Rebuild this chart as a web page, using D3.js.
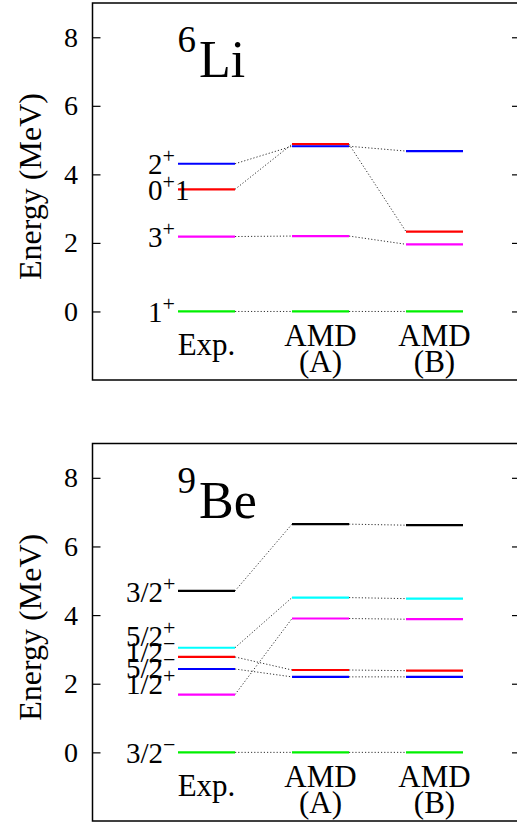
<!DOCTYPE html>
<html>
<head>
<meta charset="utf-8">
<script src="https://cdn.jsdelivr.net/npm/d3@7"></script>
<style>
  body { margin: 0; background: #fff; }
  text { font-family: "Liberation Serif", "Times New Roman", serif; fill: #000; }
</style>
</head>
<body>
<svg id="chart" width="517" height="824"></svg>
<script>
// ---- data ----
const columns = [["Exp."], ["AMD", "(A)"], ["AMD", "(B)"]];
const yTicks = [0, 2, 4, 6, 8];

// 6Li levels (MeV)
const li6States = ["1^+", "3^+", "0^+1", "2^+"];
const li6Exp  = [0, 2.186, 3.563, 4.31];
const li6AmdA = [0, 2.20, 4.88, 4.82];
const li6AmdB = [0, 1.96, 2.33, 4.68];
const li6LabelE = [0, 2.186, 3.563, 4.31];

// 9Be levels (MeV)
const be9States = ["3/2^−", "1/2^+", "5/2^−", "1/2^−", "5/2^+", "3/2^+"];
const be9Exp  = [0, 1.684, 2.429, 2.78, 3.049, 4.704];
const be9AmdA = [0, 3.90, 2.20, 2.40, 4.51, 6.65];
const be9AmdB = [0, 3.88, 2.20, 2.38, 4.48, 6.62];
const be9LabelE = [0, 2.00, 2.47, 2.93, 3.40, 4.70];

// ---- styles ----
const li6Colors = ["#00f000", "#ff00ff", "#ff0000", "#0000ff"];
const be9Colors = ["#00f000", "#ff00ff", "#0000ff", "#ff0000", "#00ffff", "#000000"];

const svg = d3.select("#chart");
const plotLeft = 92.5, plotRight = 520;
const halfW = 0.25;

const x = d3.scaleLinear().domain([0, 3.75]).range([plotLeft, plotRight]);

function addLabel(sel, str, supSize) {
  // gnuplot style: "a^+b" -> a, superscript +, then b
  const i = str.indexOf("^");
  if (i < 0) { sel.text(str); return; }
  sel.append("tspan").text(str.slice(0, i));
  sel.append("tspan").attr("dy", -11).style("font-size", supSize + "px").text(str[i + 1]);
  const rest = str.slice(i + 2);
  if (rest.length) sel.append("tspan").attr("dy", 11).text(rest);
}

function drawPanel(top, bottom, p) {
  const y = d3.scaleLinear().domain([-2, 9]).range([bottom, top]);
  const g = svg.append("g");

  // frame
  g.append("rect")
    .attr("x", plotLeft).attr("y", top)
    .attr("width", plotRight - plotLeft).attr("height", bottom - top)
    .attr("fill", "none").attr("stroke", "#000").attr("stroke-width", 1.5);

  // ticks left + right
  g.append("g")
    .attr("transform", `translate(${plotLeft},0)`)
    .call(d3.axisRight(y).tickValues(yTicks).tickSize(8).tickFormat(""))
    .call(a => a.select(".domain").remove())
    .selectAll("line").attr("stroke", "#000").attr("stroke-width", 1.2);
  g.append("g")
    .attr("transform", `translate(${plotRight},0)`)
    .call(d3.axisLeft(y).tickValues(yTicks).tickSize(8).tickFormat(""))
    .call(a => a.select(".domain").remove())
    .selectAll("line").attr("stroke", "#000").attr("stroke-width", 1.2);

  g.selectAll(".ytl").data(yTicks).join("text")
    .attr("x", 78).attr("y", d => y(d))
    .attr("text-anchor", "end").attr("dominant-baseline", "central")
    .style("font-size", "28px").text(d => d);

  g.append("text")
    .attr("transform", `translate(30,${(top + bottom) / 2 - 5}) rotate(-90)`)
    .attr("text-anchor", "middle").attr("dominant-baseline", "central")
    .style("font-size", "32px").text("Energy (MeV)");

  // title
  g.append("text").attr("x", 196).attr("y", top + 49)
    .attr("text-anchor", "end").style("font-size", "37px").text(p.mass);
  g.append("text").attr("x", 199).attr("y", top + 74)
    .style("font-size", "52px").text(p.name);

  // connectors
  const sets = [p.exp, p.amdA, p.amdB];
  const links = [];
  p.exp.forEach((_, i) => {
    for (let c = 0; c < 2; c++) {
      links.push({ x1: c + 1 + halfW, y1: sets[c][i], x2: c + 2 - halfW, y2: sets[c + 1][i] });
    }
  });
  g.selectAll(".link").data(links).join("line")
    .attr("x1", d => x(d.x1)).attr("y1", d => y(d.y1))
    .attr("x2", d => x(d.x2)).attr("y2", d => y(d.y2))
    .attr("stroke", "#333").attr("stroke-width", 1)
    .attr("stroke-dasharray", "1.2,2");

  // levels
  sets.forEach((vals, c) => {
    g.selectAll(".lvl" + c).data(vals).join("line")
      .attr("x1", x(c + 1 - halfW)).attr("x2", x(c + 1 + halfW))
      .attr("y1", d => y(d)).attr("y2", d => y(d))
      .attr("stroke", (d, i) => p.colors[i]).attr("stroke-width", 2.2);
  });

  // state labels
  g.selectAll(".st").data(p.states).join("text")
    .attr("x", p.labelX).attr("y", (d, i) => y(p.labelE[i]) + 10.5)
    .style("font-size", "29px")
    .each(function (d) { addLabel(d3.select(this), d, 22); });

  // column labels
  const zero = y(0);
  columns.forEach((lines, c) => {
    const t = g.append("text").attr("text-anchor", "middle").style("font-size", "31px");
    if (lines.length === 1) {
      t.attr("x", x(c + 1)).attr("y", zero + 44).text(lines[0]);
    } else {
      t.attr("x", x(c + 1)).attr("y", zero + 34.5).text(lines[0]);
      g.append("text").attr("text-anchor", "middle").style("font-size", "31px")
        .attr("x", x(c + 1)).attr("y", zero + 61).text(lines[1]);
    }
  });
}

drawPanel(3, 380, {
  mass: "6", name: "Li", states: li6States, exp: li6Exp, amdA: li6AmdA, amdB: li6AmdB,
  labelE: li6LabelE, colors: li6Colors, labelX: 148
});
drawPanel(443.5, 821, {
  mass: "9", name: "Be", states: be9States, exp: be9Exp, amdA: be9AmdA, amdB: be9AmdB,
  labelE: be9LabelE, colors: be9Colors, labelX: 126
});
</script>
</body>
</html>
